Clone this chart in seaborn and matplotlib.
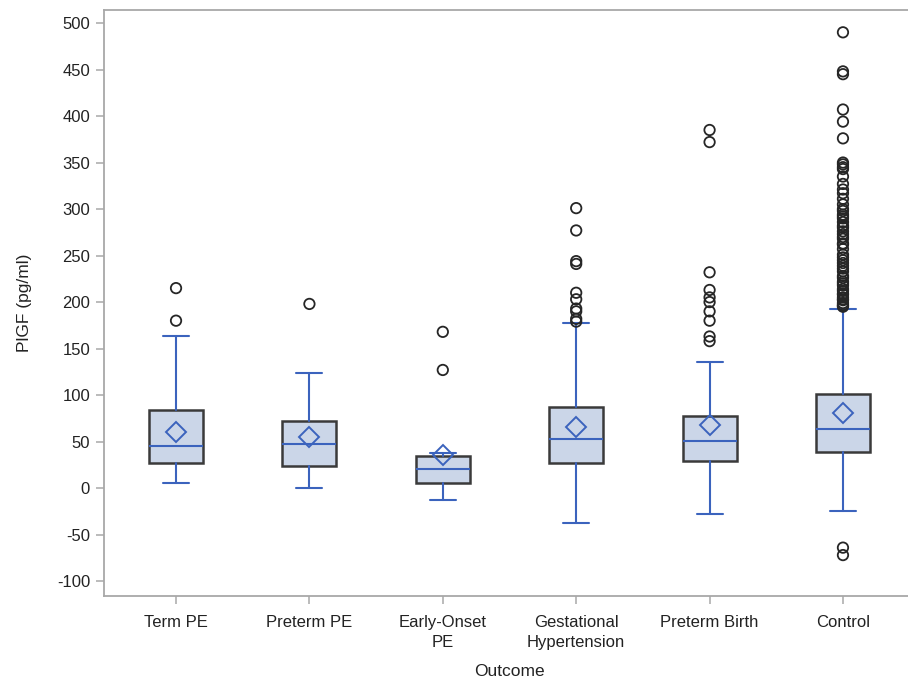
import pandas as pd
import matplotlib
matplotlib.use('Agg')
import matplotlib.pyplot as plt
import seaborn as sns

# Summary statistics (PlGF, pg/ml)
outcomes = ['Term PE', 'Preterm PE', 'Early-Onset\nPE', 'Gestational\nHypertension',
            'Preterm Birth', 'Control']
q1 = [26.5, 24, 6, 27, 29, 39]
median = [45, 47, 20.5, 53, 51, 64]
q3 = [84, 72, 35, 87, 77, 101]
whisker_lo = [6, 0, -13, -38, -28, -24.5]
whisker_hi = [163, 124, 38, 177, 136, 193]
mean = [60, 54.5, 35.5, 66, 68, 80.5]

# Outliers per group
out_term = [215, 180]
out_preterm = [198]
out_early = [168, 127]
out_gest = [301, 277, 244, 241, 210, 203, 193, 190, 182, 179]
out_birth = [385, 372, 232, 213, 205, 200, 190, 180, 163, 158]
out_control = [490, 448, 445, 407, 394, 376, 350, 348, 345, 343, 335, 327, 321, 317,
               311, 305, 300, 298, 294, 292, 290, 286, 282, 280, 276, 273, 270, 268,
               263, 262, 257, 251, 248, 245, 242, 239, 236, 233, 228, 226, 222, 220,
               218, 214, 212, 209, 208, 205, 203, 202, 199, 197, 196, 195, -64, -72]

outliers = [out_term, out_preterm, out_early, out_gest, out_birth, out_control]

sns.set_theme(style='ticks')
plt.rcParams['font.family'] = ['Liberation Sans', 'DejaVu Sans']
plt.rcParams['axes.unicode_minus'] = False

blue = '#3b63bd'
fill = '#cbd6e8'
edge = '#3a3a3a'
grey = '#a8a8a8'

fig = plt.figure(figsize=(9.08, 6.77), dpi=100)
# the right side of the frame runs past the picture edge, as in the reference
ax = fig.add_axes([104 / 908, 81 / 677, 811 / 908, 586 / 677])

stats = []
for i in range(len(outcomes)):
    stats.append({'q1': q1[i], 'med': median[i], 'q3': q3[i],
                  'whislo': whisker_lo[i], 'whishi': whisker_hi[i],
                  'mean': mean[i], 'fliers': []})

ax.bxp(stats, positions=range(len(outcomes)), widths=0.405, patch_artist=True,
       showmeans=True, showfliers=False,
       boxprops=dict(facecolor=fill, edgecolor=edge, linewidth=1.8),
       medianprops=dict(color=blue, linewidth=1.5),
       whiskerprops=dict(color=blue, linewidth=1.5),
       capprops=dict(color=blue, linewidth=1.5),
       capwidths=0.195,
       meanprops=dict(marker='D', markerfacecolor='none', markeredgecolor=blue,
                      markeredgewidth=1.4, markersize=10))

# outliers drawn as hollow circles via seaborn
df_out = pd.DataFrame({
    'Outcome': [outcomes[i] for i, vals in enumerate(outliers) for _ in vals],
    'PlGF': [v for vals in outliers for v in vals],
})
sns.stripplot(data=df_out, x='Outcome', y='PlGF', order=outcomes, jitter=False,
              color=edge, facecolors='none', edgecolor='#262626', linewidth=1.3,
              size=7.5, zorder=4, ax=ax)

ax.set_xlim(-0.54, 5.54)
ax.set_ylim(-116, 514)
ax.set_yticks(range(-100, 501, 50))
ax.set_xticks(range(len(outcomes)))
ax.set_xticklabels(outcomes, linespacing=1.35)

for s in ['left', 'bottom', 'top', 'right']:
    ax.spines[s].set_color(grey)
    ax.spines[s].set_linewidth(1.3)
ax.tick_params(axis='both', colors=grey, labelcolor='#222222', labelsize=12,
               length=6, width=1.1, pad=4)
ax.tick_params(axis='x', pad=8)

ax.set_xlabel('Outcome', fontsize=12.5, color='#222222', labelpad=10)
ax.set_ylabel('PlGF (pg/ml)', fontsize=12.5, color='#222222', labelpad=18)

fig.savefig('out.png', dpi=100)
